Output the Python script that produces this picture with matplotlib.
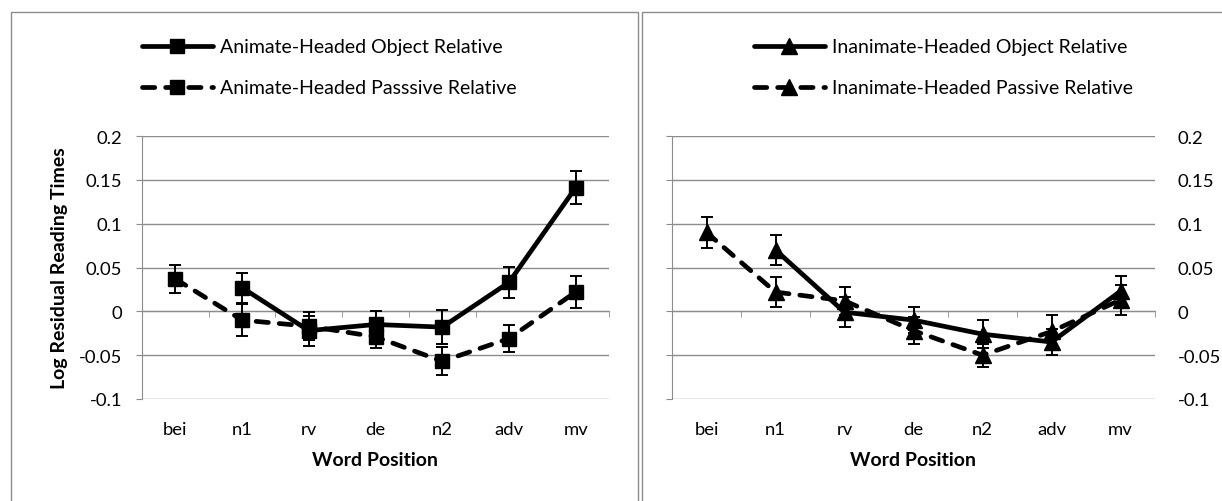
import matplotlib.pyplot as plt
import matplotlib.patches as mpatches
import numpy as np

plt.rcParams['font.family'] = ['Lato', 'DejaVu Sans']

words = ["bei", "n1", "rv", "de", "n2", "adv", "mv"]

# left panel: animate-headed
anim_obj = [np.nan, 0.027, -0.022, -0.015, -0.018, 0.033, 0.141]
anim_obj_err = [np.nan, 0.017, 0.017, 0.015, 0.019, 0.018, 0.019]
anim_pas = [0.037, -0.010, -0.017, -0.029, -0.057, -0.031, 0.022]
anim_pas_err = [0.016, 0.018, 0.016, 0.013, 0.016, 0.015, 0.018]

# right panel: inanimate-headed
inan_obj = [np.nan, 0.070, -0.001, -0.010, -0.026, -0.035, 0.023]
inan_obj_err = [np.nan, 0.017, 0.017, 0.015, 0.016, 0.015, 0.017]
inan_pas = [0.090, 0.022, 0.012, -0.022, -0.050, -0.023, 0.013]
inan_pas_err = [0.018, 0.017, 0.016, 0.015, 0.013, 0.019, 0.017]

legend_left = ["Animate-Headed Object Relative", "Animate-Headed Passsive Relative"]
legend_right = ["Inanimate-Headed Object Relative", "Inanimate-Headed Passive Relative"]

W, H = 1222, 502
fig = plt.figure(figsize=(W / 100, H / 100), dpi=100)

grey = "#8c8c8c"

# panel frames
fig.patches.append(mpatches.Rectangle((11 / W, -0.01), (638 - 11) / W, 1 - 12.5 / H + 0.01,
                                      transform=fig.transFigure, fill=False, ec=grey, lw=1.0))
fig.patches.append(mpatches.Rectangle((642 / W, -0.01), (1240 - 642) / W, 1 - 12.5 / H + 0.01,
                                      transform=fig.transFigure, fill=False, ec=grey, lw=1.0))


def panel(rect, obj, obj_err, pas, pas_err, marker, ms, labels, right, leg_x):
    ax = fig.add_axes(rect)
    x = np.arange(len(words))
    l1 = ax.errorbar(x, obj, yerr=obj_err, color="black", lw=3.4, marker=marker, ms=ms,
                     capsize=4.3, elinewidth=1.4, capthick=1.4, zorder=3)
    l2 = ax.errorbar(x, pas, yerr=pas_err, color="black", lw=3.4, marker=marker, ms=ms,
                     capsize=4.3, elinewidth=1.4, capthick=1.4, zorder=3)
    l1[0].set_solid_capstyle("round")
    l2[0].set_dashes((2.6, 2.3))
    l2[0].set_dash_capstyle("round")

    ax.set_xlim(-0.5, 6.5)
    ax.set_ylim(-0.1, 0.2)
    ax.set_yticks([-0.1, -0.05, 0, 0.05, 0.1, 0.15, 0.2])
    ax.set_yticklabels(["-0.1", "-0.05", "0", "0.05", "0.1", "0.15", "0.2"])
    ax.grid(axis="y", color=grey, lw=1)
    ax.set_axisbelow(True)
    for s in ["top", "right"]:
        ax.spines[s].set_visible(False)
    ax.spines["left"].set_color(grey)
    ax.spines["bottom"].set_position(("data", 0))
    ax.spines["bottom"].set_color(grey)
    ax.set_xticks(x)
    ax.tick_params(axis="x", length=0, labelbottom=False)
    ax.set_xticks(np.arange(-0.5, 7, 1), minor=True)
    ax.tick_params(axis="x", which="minor", length=4, color=grey, direction="out")
    if right:
        ax.tick_params(axis="y", left=True, right=False, labelleft=False, labelright=True,
                       length=4.3, color=grey, labelsize=13.3, pad=12)
    else:
        ax.tick_params(axis="y", length=4.3, color=grey, labelsize=13.3, pad=10)
        ax.set_ylabel("Log Residual Reading Times", fontsize=14, fontweight="bold", labelpad=8)

    sec = ax.secondary_xaxis("bottom")
    sec.set_xticks(x)
    sec.set_xticklabels(words)
    sec.tick_params(length=0, labelsize=13.3, pad=16)
    sec.spines["bottom"].set_visible(False)
    sec.set_xlabel("Word Position", fontsize=14, fontweight="bold", labelpad=10)

    fig.legend([l1[0], l2[0]], labels, loc="upper left", bbox_to_anchor=(leg_x / W, 1 - 39.5 / H),
               frameon=False, fontsize=14, handlelength=3.65, handletextpad=0.36,
               labelspacing=1.23, borderpad=0, borderaxespad=0, numpoints=1)
    return ax


panel([142 / W, 1 - 400 / H, (609 - 142) / W, (400 - 137) / H],
      anim_obj, anim_obj_err, anim_pas, anim_pas_err, "s", 10.2, legend_left, False, 142)
panel([672 / W, 1 - 400 / H, (1155 - 672) / W, (400 - 137) / H],
      inan_obj, inan_obj_err, inan_pas, inan_pas_err, "^", 11, legend_right, True, 754)

fig.savefig("out.png", dpi=100)
